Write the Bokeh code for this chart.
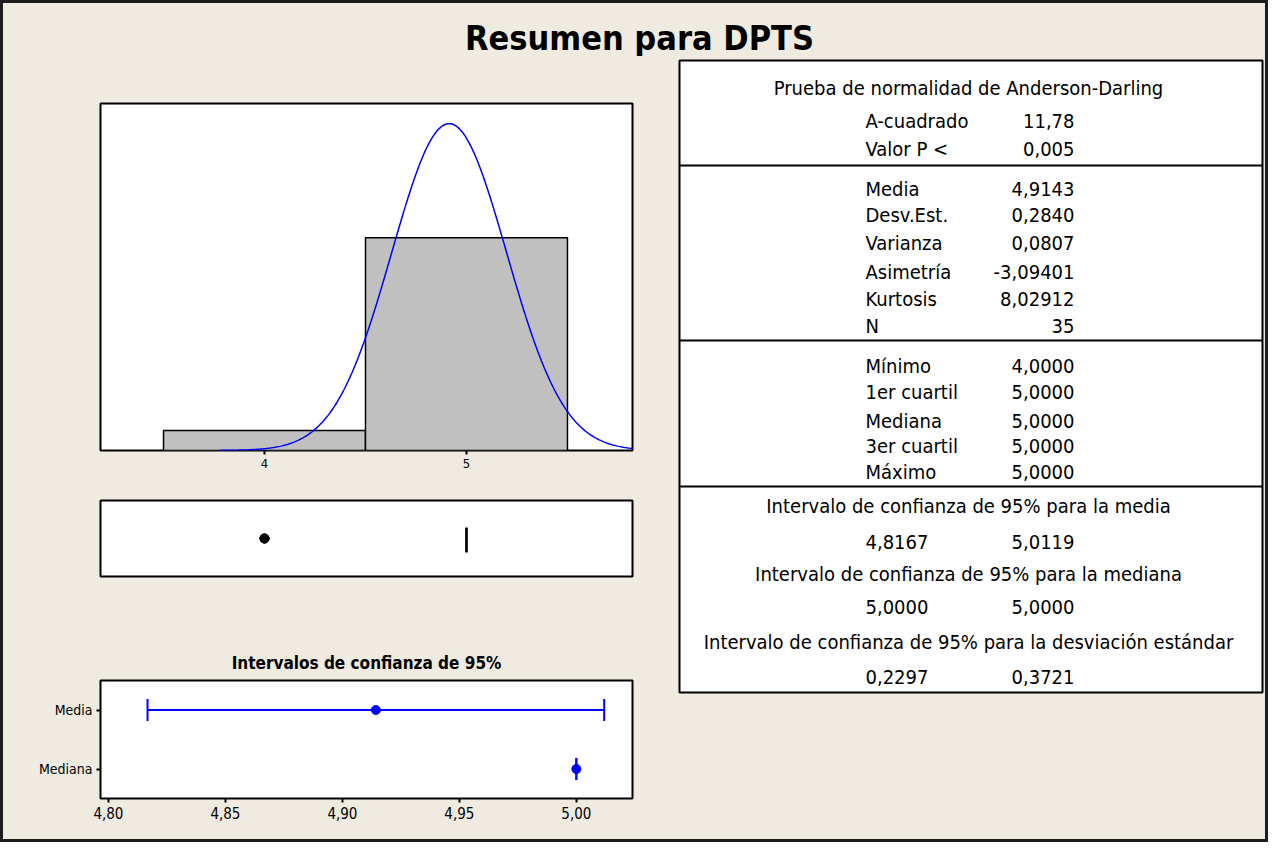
import numpy as np
from bokeh.plotting import figure
from bokeh.layouts import column, row
from bokeh.models import (Range1d, FactorRange, FixedTicker, ColumnDataSource,
                          Whisker, TeeHead, Span, CustomJSTickFormatter)
from bokeh.core.properties import value
from bokeh.embed import file_html
from bokeh.resources import INLINE

# ---------------- data ----------------
variable_name = "DPTS"
bin_lefts = [3.5, 4.5]
bin_rights = [4.5, 5.5]
bin_counts = [3, 32]
hist_ticks = [4, 5]

outlier_values = [4.0, 4.0, 4.0]

n_obs = 35
a_squared = 11.78
p_value = 0.005
mean_val = 4.9143
stdev_val = 0.2840
variance_val = 0.0807
skewness_val = -3.09401
kurtosis_val = 8.02912
minimum_val = 4.0
q1_val = 5.0
median_val = 5.0
q3_val = 5.0
maximum_val = 5.0
ci_mean = [4.8167, 5.0119]
ci_median = [5.0000, 5.0000]
ci_stdev = [0.2297, 0.3721]
ci_ticks = [4.80, 4.85, 4.90, 4.95, 5.00]
ci_categories = ["Media", "Mediana"]

ad_header = "Prueba de normalidad de Anderson-Darling"
ad_labels = ["A-cuadrado", "Valor P <"]
desc_labels = ["Media", "Desv.Est.", "Varianza", "Asimetría", "Kurtosis", "N"]
quant_labels = ["Mínimo", "1er cuartil", "Mediana", "3er cuartil", "Máximo"]
ci_titles = ["Intervalo de confianza de 95% para la media",
             "Intervalo de confianza de 95% para la mediana",
             "Intervalo de confianza de 95% para la desviación estándar"]


def fmt(v, d):
    return f"{v:.{d}f}".replace(".", ",")


ad_values = [fmt(a_squared, 2), fmt(p_value, 3)]
desc_values = [fmt(mean_val, 4), fmt(stdev_val, 4), fmt(variance_val, 4),
               fmt(skewness_val, 5), fmt(kurtosis_val, 5), str(n_obs)]
quant_values = [fmt(v, 4) for v in [minimum_val, q1_val, median_val, q3_val, maximum_val]]
ci_pairs = [ci_mean, ci_median, ci_stdev]

# ---------------- style ----------------
BG = "#efebe1"
BLUE = "#0000ff"
FONT = "DejaVu Sans Condensed"
LEFT_W = 610
LEFT_BL = 68
LEFT_BR = 10
LEFT_ML = 32


def common(p):
    p.grid.visible = False
    return p


# ---------------- title ----------------
title_fig = figure(width=1268, height=56, x_range=Range1d(8, 1276), y_range=Range1d(64, 8),
                   output_backend="svg", toolbar_location=None, min_border=0,
                   x_axis_location=None, y_axis_location=None,
                   background_fill_color=None, border_fill_color=None, outline_line_color=None)
common(title_fig)
title_fig.text(x=[647], y=[45], text=[f"Resumen para {variable_name}"],
               text_font=value(FONT), text_font_style="bold", text_font_size="34px",
               text_align="center", text_baseline="middle", text_color="black")

# ---------------- histogram ----------------
xr = Range1d(3.188, 5.822)
hist = figure(width=LEFT_W, height=387, x_range=xr, y_range=Range1d(0, 52.2),
              output_backend="svg", toolbar_location=None,
              min_border_left=LEFT_BL, min_border_right=LEFT_BR, min_border_top=10, min_border_bottom=30,
              x_axis_location="below", y_axis_location=None,
              background_fill_color="white", border_fill_color=None,
              outline_line_color="black", outline_line_width=2)
common(hist)
hist.quad(left=bin_lefts, right=bin_rights, bottom=0, top=bin_counts,
          fill_color="#c0c0c0", line_color="black", line_width=1.5)
bw = bin_rights[0] - bin_lefts[0]
xs = np.linspace(mean_val - 4 * stdev_val, mean_val + 4 * stdev_val, 400)
ys = n_obs * bw * np.exp(-0.5 * ((xs - mean_val) / stdev_val) ** 2) / (stdev_val * np.sqrt(2 * np.pi))
hist.line(xs, ys, line_color=BLUE, line_width=1.5)
hist.xaxis.ticker = FixedTicker(ticks=hist_ticks, minor_ticks=[])
hist.xaxis.axis_line_color = None
hist.xaxis.major_tick_in = 0
hist.xaxis.major_tick_out = 4
hist.xaxis.major_tick_line_width = 2
hist.xaxis.minor_tick_line_color = None
hist.xaxis.major_label_text_font = FONT
hist.xaxis.major_label_text_font_size = "13px"
hist.xaxis.major_label_text_color = "black"
hist.xaxis.major_label_standoff = 4
hist.margin = (37, 0, 0, LEFT_ML)

# ---------------- boxplot ----------------
box = figure(width=LEFT_W, height=96, x_range=xr, y_range=Range1d(0, 1),
             output_backend="svg", toolbar_location=None,
             min_border_left=LEFT_BL, min_border_right=LEFT_BR, min_border_top=10, min_border_bottom=10,
             x_axis_location=None, y_axis_location=None,
             background_fill_color="white", border_fill_color=None,
             outline_line_color="black", outline_line_width=2)
common(box)
box_lo, box_hi = 0.32, 0.64
box.segment(x0=[q1_val, q3_val, q1_val, q1_val, median_val],
            y0=[box_lo, box_lo, box_lo, box_hi, box_lo],
            x1=[q1_val, q3_val, q3_val, q3_val, median_val],
            y1=[box_hi, box_hi, box_lo, box_hi, box_hi],
            line_color="black", line_width=2)
box.scatter(x=outlier_values, y=[0.5] * len(outlier_values), marker="circle",
            size=9, fill_color="black", line_color="black")
box.margin = (10, 0, 0, LEFT_ML)

# ---------------- CI title ----------------
ci_title = figure(width=LEFT_W, height=28, x_range=Range1d(0, 1), y_range=Range1d(0, 1),
                  output_backend="svg", toolbar_location=None,
                  min_border_left=LEFT_BL, min_border_right=LEFT_BR, min_border_top=0, min_border_bottom=0,
                  x_axis_location=None, y_axis_location=None,
                  background_fill_color=None, border_fill_color=None, outline_line_color=None)
common(ci_title)
ci_title.text(x=[0.5], y=[0.5], text=["Intervalos de confianza de 95%"],
              text_font=value(FONT), text_font_style="bold", text_font_size="17px",
              text_align="center", text_baseline="middle", text_color="black")
ci_title.margin = (62, 0, 0, LEFT_ML)

# ---------------- CI plot ----------------
ci = figure(width=LEFT_W, height=154, x_range=Range1d(4.7966, 5.024),
            y_range=FactorRange(factors=ci_categories[::-1], range_padding=0),
            output_backend="svg", toolbar_location=None,
            min_border_left=LEFT_BL, min_border_right=LEFT_BR, min_border_top=4, min_border_bottom=32,
            background_fill_color="white", border_fill_color=None,
            outline_line_color="black", outline_line_width=2)
common(ci)
src = ColumnDataSource(dict(cat=ci_categories, lo=[ci_mean[0], ci_median[0]],
                            hi=[ci_mean[1], ci_median[1]], est=[mean_val, median_val]))
wh = Whisker(source=src, base="cat", lower="lo", upper="hi", dimension="width",
             line_color=BLUE, line_width=2,
             lower_head=TeeHead(size=22, line_color=BLUE, line_width=2),
             upper_head=TeeHead(size=22, line_color=BLUE, line_width=2))
ci.add_layout(wh)
ci.scatter(x="est", y="cat", source=src, marker="circle", size=9,
           fill_color=BLUE, line_color=BLUE)
ci.xaxis.ticker = FixedTicker(ticks=ci_ticks, minor_ticks=[])
ci.xaxis.formatter = CustomJSTickFormatter(code="return tick.toFixed(2).replace('.', ',');")
for ax in (ci.xaxis, ci.yaxis):
    ax.axis_line_color = None
    ax.major_tick_in = 0
    ax.major_tick_out = 4
    ax.major_tick_line_width = 2
    ax.minor_tick_line_color = None
    ax.major_label_text_font = FONT
    ax.major_label_text_color = "black"
    ax.major_label_standoff = 4
ci.xaxis.major_label_text_font_size = "15px"
ci.yaxis.major_label_text_font_size = "14px"
ci.margin = (0, 0, 0, LEFT_ML)

# ---------------- table ----------------
table = figure(width=588, height=640, x_range=Range1d(687, 1270), y_range=Range1d(700, 68),
               output_backend="svg", toolbar_location=None,
               min_border_left=3, min_border_right=2, min_border_top=4, min_border_bottom=4,
               x_axis_location=None, y_axis_location=None,
               background_fill_color="white", border_fill_color=None,
               outline_line_color="black", outline_line_width=2)
common(table)
label_x, value_x, center_x = 873, 1082, 976
header_y = 95
row_y = [128, 156, 196, 222, 250, 279, 306, 333, 373, 399, 428, 453, 479]
ci_header_y = [513, 581, 649]
ci_value_y = [549, 614, 684]
divider_y = [173, 348, 494]

for yv in divider_y:
    table.add_layout(Span(location=yv, dimension="width", line_color="black", line_width=2))

TXT = dict(text_font=value(FONT), text_font_size="20px", text_baseline="middle", text_color="black")
all_labels = ad_labels + desc_labels + quant_labels
all_values = ad_values + desc_values + quant_values
table.text(x=[center_x], y=[header_y], text=[ad_header], text_align="center", **TXT)
table.text(x=[label_x] * len(all_labels), y=row_y, text=all_labels, text_align="left", **TXT)
table.text(x=[value_x] * len(all_values), y=row_y, text=all_values, text_align="right", **TXT)
table.text(x=[center_x] * 3, y=ci_header_y, text=ci_titles, text_align="center", **TXT)
table.text(x=[label_x] * 3, y=ci_value_y, text=[fmt(p[0], 4) for p in ci_pairs], text_align="left", **TXT)
table.text(x=[value_x] * 3, y=ci_value_y, text=[fmt(p[1], 4) for p in ci_pairs], text_align="right", **TXT)
table.margin = (0, 0, 0, 34)

# ---------------- layout ----------------
left = column(hist, box, ci_title, ci, spacing=0)
body = row(left, table, spacing=0)
page = column(title_fig, body, spacing=0, width=1268, height=842,
              styles={"background-color": BG, "box-shadow": "inset 0 0 0 3px #1c1c1c"})

open("out.html", "w").write(file_html(page, INLINE))
